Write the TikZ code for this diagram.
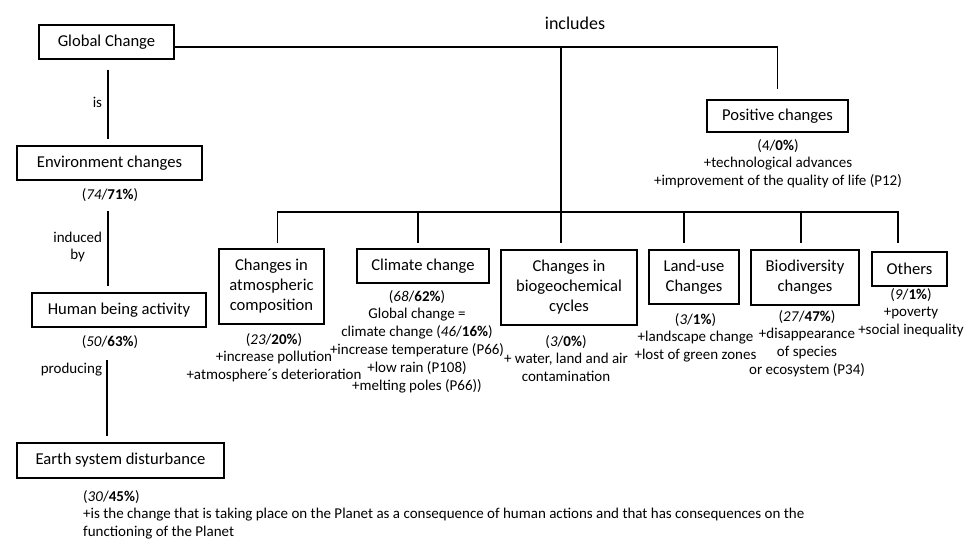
\documentclass[tikz,border=0pt]{standalone}
\usepackage{fontspec}
\setmainfont{Carlito}
\usepackage{tikz}
\usetikzlibrary{calc}
\newcommand{\boxfont}{\fontsize{16.6}{20}\selectfont}
\newcommand{\notefont}{\fontsize{15}{17.8}\selectfont}
\newcommand{\concept}[6]{ \node[concept, minimum width=#4, minimum height=#5] (#1) at ( #2 , #3 ) {#6};}
\newcommand{\note}[4]{ \node[note] (#1) at ( #2 , #3 ) {#4};}

\begin{document}
\begin{tikzpicture}[x=1pt, y=-1pt,
    concept/.style={draw, line width=1.2pt, font=\boxfont, align=center, inner sep=0pt},
    note/.style={font=\notefont, align=center, inner sep=0pt, anchor=north},
    link/.style={line width=1.8pt},
    lab/.style={font=\notefont, align=center, inner sep=0pt}]
    \useasboundingbox (0,0) rectangle (967,541);

        % left column
        \concept{gc}{106.5}{42}{135pt}{34pt}{Global Change}
        \concept{env}{109.5}{163}{185pt}{34pt}{Environment changes}
        \concept{hum}{119}{310}{174pt}{34pt}{Human being activity}
        \concept{earth}{120.5}{460.5}{207pt}{35pt}{Earth system disturbance}

        \note{envp}{110}{188}{(\textit{74}/\textbf{71\%})}
        \note{hump}{110}{335}{(\textit{50}/\textbf{63\%})}
        \node[note, anchor=north west, align=left] (earthp) at (83,490) {(\textit{30}/\textbf{45\%})\\+is the change that is taking place on the Planet as a consequence of human actions and that has consequences on the\\functioning of the Planet};

        \draw[link, shorten <=10pt, shorten >=6pt] ([xshift=1.5]gc.south) -- node[lab, left=5pt] {is} ([xshift=1.5]gc.south |- env.north);
        \draw[link, shorten <=10pt, shorten >=6pt] ([xshift=-2]envp.south) -- node[lab, left=5pt] {induced\\by} ([xshift=-2]envp.south |- hum.north);
        \draw[link, shorten <=12pt, shorten >=6pt] ([xshift=-3]hump.south) -- node[lab, left=4pt, pos=0.22] {producing} ([xshift=-3]hump.south |- earth.north);

        % includes
        \node[font=\fontsize{18}{20}\selectfont, inner sep=0pt] (inc) at (575,23) {includes};
        \concept{pos}{777.5}{116}{141pt}{32pt}{Positive changes}
        \note{posp}{778}{139}{(4/\textbf{0\%})\\+technological advances\\+improvement of the quality of life (P12)}
        \draw[link, shorten >=10pt] ([yshift=-5]gc.east) -| (pos.north);

        \coordinate (top) at (561,47);
        \coordinate (bus) at (561,212);
        \draw[link] (top) -- (bus);

        % row of changes
        \concept{atm}{271.5}{286.5}{105pt}{75pt}{Changes in\\atmospheric\\composition}
        \concept{clim}{423}{266}{132pt}{34pt}{Climate change}
        \concept{bio}{569}{287.5}{136pt}{75pt}{Changes in\\biogeochemical\\cycles}
        \concept{land}{694}{277}{90pt}{54pt}{Land-use\\Changes}
        \concept{biod}{805}{277.5}{108pt}{55pt}{Biodiversity\\changes}
        \concept{oth}{909.5}{269}{75pt}{34pt}{Others}

        \draw[link] ([xshift=6]atm.north |- bus) ++(0,31) |- ([xshift=-11.5]oth.north |- bus) -- ++(0,31);
        \foreach \n/\dx in {clim/-5, bio/-8, land/-10, biod/-4}
            \draw[link] ([xshift=\dx]\n.north |- bus) -- ++(0,31);

        \note{atmp}{274}{333}{(\textit{23}/\textbf{20\%})\\+increase pollution\\+atmosphere´s deterioration}
        \note{climp}{417}{290}{(\textit{68}/\textbf{62\%})\\Global change =\\climate change (\textit{46}/\textbf{16\%})\\+increase temperature (P66)\\+low rain (P108)\\+melting poles (P66))}
        \note{biop}{566}{335}{(\textit{3}/\textbf{0\%})\\+ water, land and air\\contamination}
        \note{landp}{695.5}{313}{(\textit{3}/\textbf{1\%})\\+landscape change\\+lost of green zones}
        \note{biodp}{807}{310}{(\textit{27}/\textbf{47\%})\\+disappearance\\of species\\or ecosystem (P34)}
        \note{othp}{911}{288}{(\textit{9}/\textbf{1\%})\\+poverty\\+social inequality}

\end{tikzpicture}
\end{document}
